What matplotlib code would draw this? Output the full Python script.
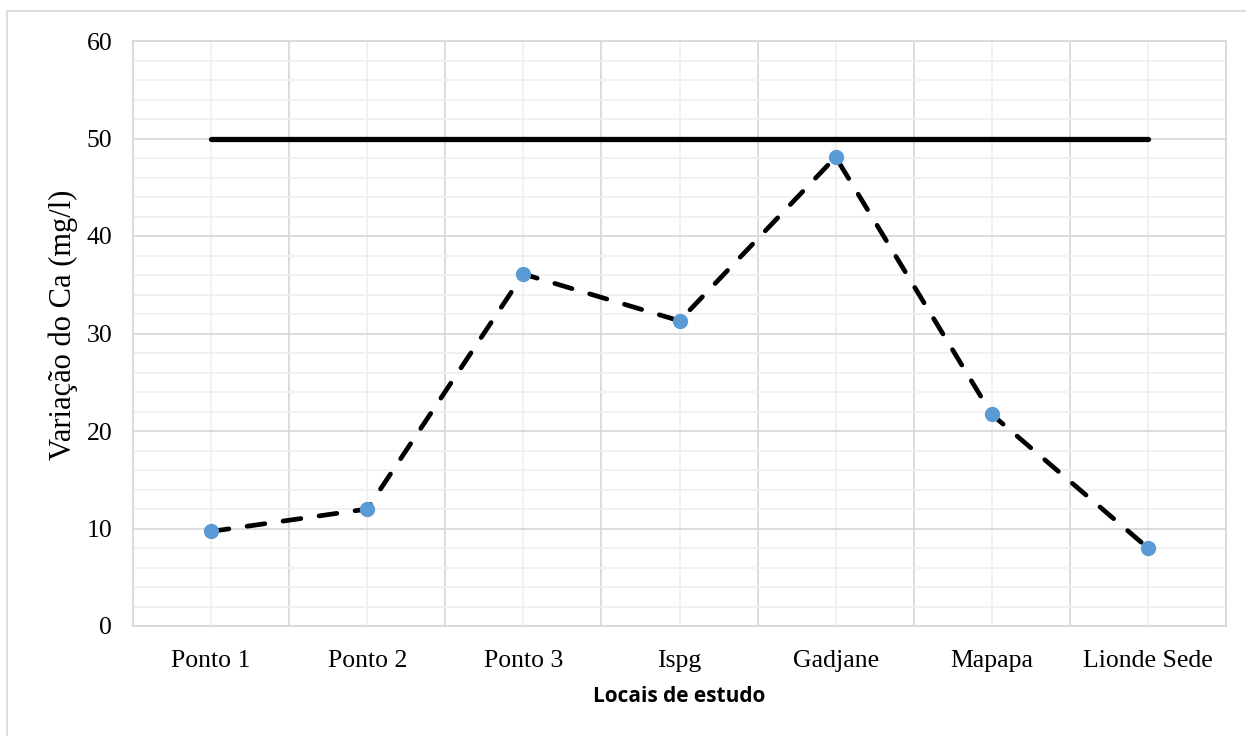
"""Calcium variation across the study sites, with the 50 mg/l reference limit."""
import numpy as np
import matplotlib
matplotlib.use("Agg")
import matplotlib.pyplot as plt
from matplotlib.patches import Rectangle

sites = ["Ponto 1", "Ponto 2", "Ponto 3", "Ispg", "Gadjane", "Mapapa", "Lionde Sede"]
ca_mg_l = [9.7, 12.0, 36.1, 31.3, 48.1, 21.7, 8.0]
limit_mg_l = [50] * len(sites)

y_ticks = [0, 10, 20, 30, 40, 50, 60]

SERIF = ["Liberation Serif", "DejaVu Serif"]
MAJOR = "#d9d9d9"
MINOR = "#f0f0f0"

fig = plt.figure(figsize=(12.46, 7.36), dpi=100)
ax = fig.add_axes([133 / 1246, 110 / 736, (1226 - 133) / 1246, (626 - 41) / 736])

x = np.arange(len(sites))
ax.plot(x, limit_mg_l, "-", color="black", lw=3.8, solid_capstyle="round", zorder=3)
ax.plot(x, ca_mg_l, color="black", lw=3.4, dashes=(3.8, 3.9),
        dash_capstyle="round", zorder=3)
ax.plot(x, ca_mg_l, "o", ms=10, mfc="#5b9bd5", mec="#5b9bd5", zorder=4)

ax.set_xlim(-0.5, len(sites) - 0.5)
ax.set_ylim(0, 60)
ax.set_yticks(y_ticks)
ax.set_yticks(np.arange(0, 61, 2), minor=True)
ax.set_xticks(x)
ax.set_xticklabels(sites)
ax.set_xticks(np.arange(-0.5, len(sites)), minor=True)

# Excel-style grid: major at whole tens / category borders, minor in between
ax.grid(axis="y", which="major", color=MAJOR, lw=1.3, zorder=1)
ax.grid(axis="y", which="minor", color=MINOR, lw=1.3, zorder=0)
ax.grid(axis="x", which="minor", color=MAJOR, lw=1.3, zorder=1)
ax.grid(axis="x", which="major", color=MINOR, lw=1.3, zorder=0)
ax.set_axisbelow(True)

ax.tick_params(which="both", length=0)
ax.tick_params(axis="x", pad=17)
ax.tick_params(axis="y", pad=15)
for lab in ax.get_xticklabels() + ax.get_yticklabels():
    lab.set_family(SERIF)
    lab.set_fontsize(18.5)
for s in ax.spines.values():
    s.set_color(MAJOR)
    s.set_linewidth(1.3)

ax.set_ylabel("Variação do Ca (mg/l)", family=SERIF, fontsize=22)
ax.yaxis.set_label_coords(-0.050, 0.515)
ax.set_xlabel("Locais de estudo", family=["Open Sans", "DejaVu Sans"],
              fontweight="bold", fontsize=15, labelpad=10)

# chart-area frame
fig.patches.append(Rectangle((7 / 1246, -0.05), 1.2, (736 - 11) / 736 + 0.05,
                             transform=fig.transFigure, fill=False,
                             ec="#d9d9d9", lw=1.3))

fig.savefig("out.png", dpi=100)
plt.close(fig)
